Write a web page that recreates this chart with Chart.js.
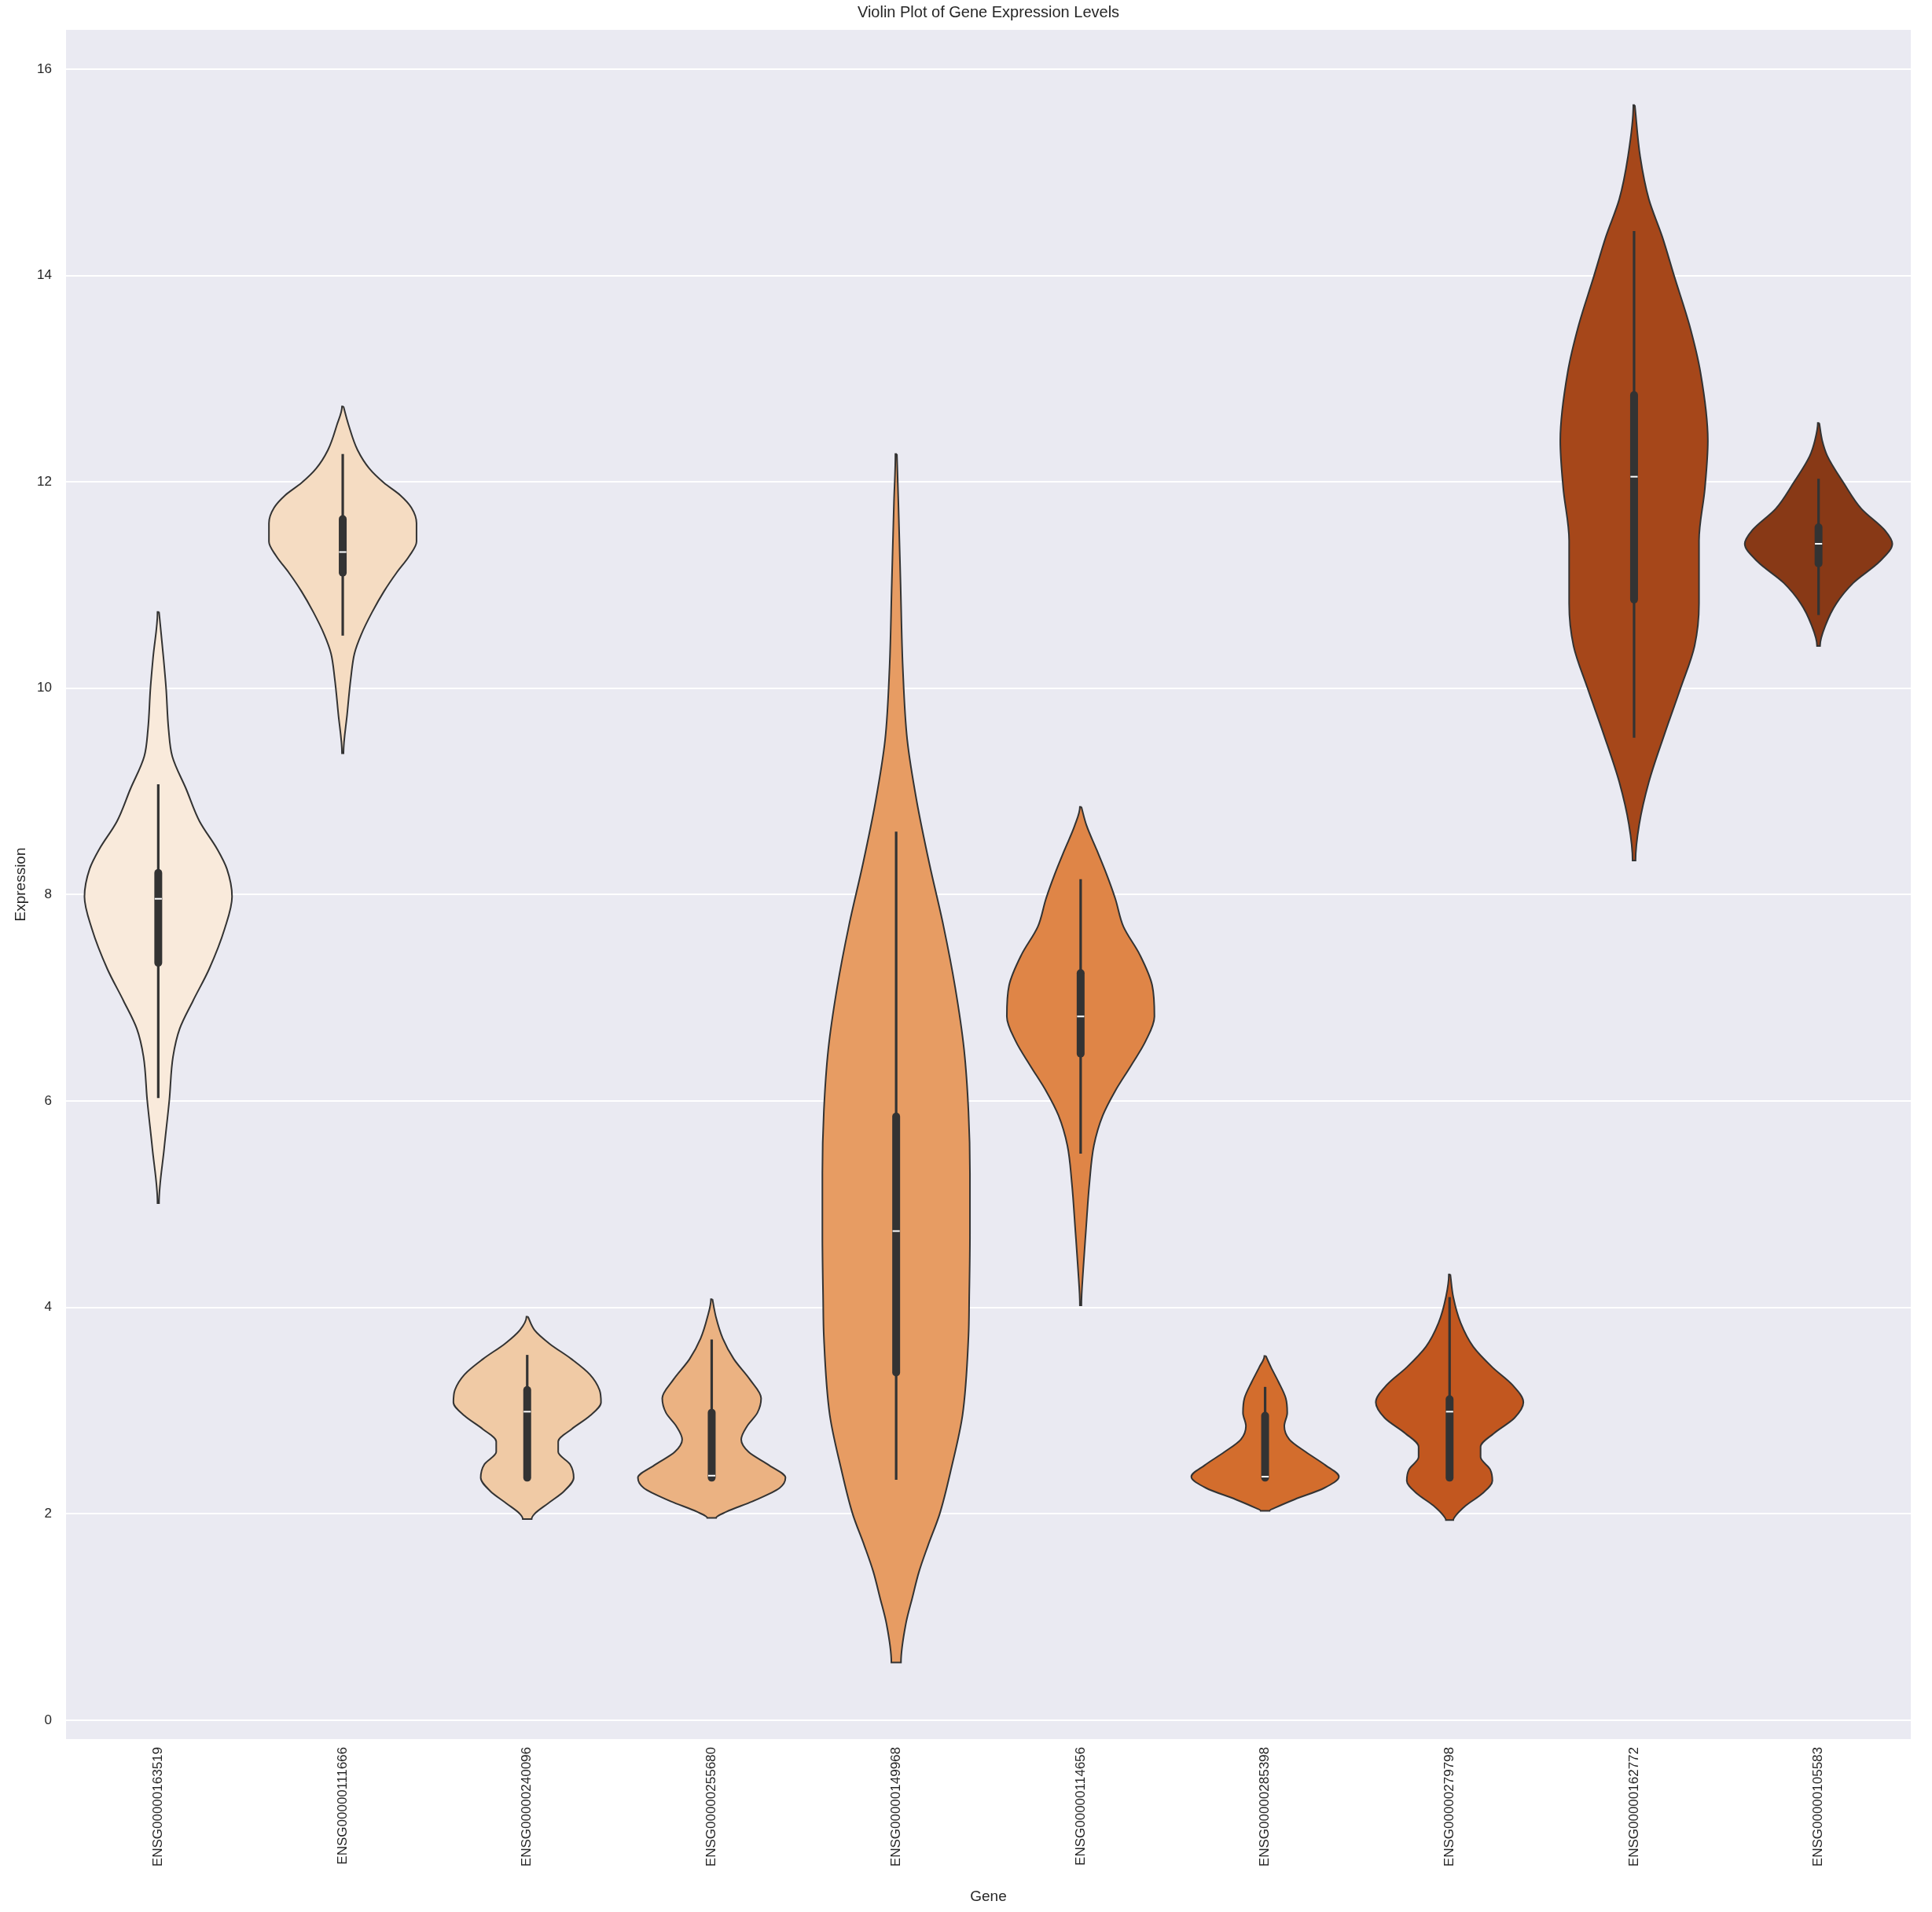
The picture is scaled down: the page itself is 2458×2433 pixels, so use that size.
<!DOCTYPE html>
<html>
<head>
<meta charset="utf-8">
<script src="https://cdn.jsdelivr.net/npm/chart.js@4.4.1/dist/chart.umd.min.js"></script>
<style>
html,body{margin:0;padding:0;background:#ffffff;}
#wrap{width:2458px;height:2433px;position:relative;}
</style>
</head>
<body>
<div id="wrap"><canvas id="c"></canvas></div>
<script>
// ---------------- data ----------------
const genes = ["ENSG00000163519","ENSG00000111666","ENSG00000240096","ENSG00000255680","ENSG00000149968",
               "ENSG00000114656","ENSG00000285398","ENSG00000279798","ENSG00000162772","ENSG00000105583"];
const yTicks = [0,2,4,6,8,10,12,14,16];

// box-plot summaries
const whiskerLow  = [6.03, 10.51, 2.33, 2.33, 2.33, 5.49, 2.33, 2.33, 9.52, 10.71];
const q1          = [7.34, 11.12, 2.35, 2.35, 3.37, 6.46, 2.35, 2.35, 10.86, 11.21];
const median      = [7.96, 11.32, 2.99, 2.37, 4.74, 6.82, 2.36, 2.99, 12.05, 11.40];
const q3          = [8.21, 11.64, 3.20, 2.98, 5.85, 7.24, 2.95, 3.11, 12.84, 11.56];
const whiskerHigh = [9.07, 12.27, 3.54, 3.69, 8.61, 8.15, 3.23, 4.10, 14.43, 12.03];

// violin outlines: expression levels (top -> bottom) and relative density (1 = widest)
const violinLevels = [
  [10.74,10.3,10.0,9.6,9.34,9.02,8.71,8.44,8.25,7.98,7.67,7.28,6.97,6.70,6.43,6.01,5.54,5.01],
  [12.73,12.55,12.31,12.13,11.99,11.87,11.75,11.60,11.42,11.28,11.12,10.94,10.74,10.52,10.34,10.1,9.75,9.37],
  [3.91,3.78,3.65,3.5,3.35,3.2,3.08,2.95,2.82,2.7,2.6,2.48,2.35,2.22,2.1,2.0,1.95],
  [4.08,3.9,3.7,3.5,3.3,3.12,2.98,2.85,2.72,2.6,2.47,2.35,2.25,2.12,2.02,1.96],
  [12.27,11.8,11.0,10.2,9.5,8.9,8.3,7.7,7.1,6.5,5.9,5.3,4.7,4.1,3.72,2.96,2.45,2.0,1.69,1.44,1.19,0.93,0.56],
  [8.85,8.67,8.43,8.2,7.96,7.69,7.42,7.12,6.82,6.58,6.34,6.1,5.86,5.57,5.21,4.73,4.37,4.02],
  [3.53,3.42,3.28,3.12,2.98,2.85,2.72,2.6,2.47,2.36,2.25,2.14,2.06,2.03],
  [4.32,4.1,3.85,3.62,3.42,3.25,3.08,2.93,2.78,2.65,2.55,2.43,2.32,2.2,2.08,1.97,1.94],
  [15.65,15.15,14.74,14.38,13.98,13.52,13.06,12.4,11.94,11.43,10.82,10.41,10.0,9.55,9.09,8.68,8.33],
  [12.57,12.4,12.25,11.99,11.74,11.53,11.40,11.23,11.02,10.82,10.62,10.41]
];
const violinDensity = [
  [0.01,0.07,0.106,0.14,0.19,0.38,0.56,0.8,0.93,1.0,0.9,0.69,0.47,0.29,0.2,0.15,0.08,0.01],
  [0.01,0.08,0.2,0.36,0.56,0.78,0.93,1.0,1.0,0.9,0.73,0.56,0.4,0.25,0.16,0.11,0.06,0.01],
  [0.01,0.1,0.3,0.6,0.85,0.98,1.0,0.85,0.6,0.42,0.42,0.58,0.63,0.5,0.28,0.1,0.06],
  [0.01,0.06,0.15,0.3,0.52,0.67,0.62,0.48,0.4,0.5,0.78,1.0,0.92,0.55,0.2,0.06],
  [0.01,0.03,0.06,0.09,0.15,0.28,0.45,0.64,0.8,0.92,0.98,1.0,1.0,0.99,0.98,0.9,0.75,0.59,0.43,0.31,0.22,0.13,0.065],
  [0.01,0.08,0.22,0.35,0.47,0.58,0.8,0.97,1.0,0.88,0.68,0.47,0.3,0.18,0.12,0.07,0.035,0.01],
  [0.01,0.08,0.18,0.28,0.3,0.26,0.33,0.55,0.82,1.0,0.8,0.4,0.14,0.06],
  [0.01,0.05,0.15,0.32,0.58,0.85,1.0,0.88,0.6,0.42,0.42,0.55,0.58,0.45,0.22,0.07,0.05],
  [0.01,0.083,0.2,0.38,0.55,0.75,0.9,1.0,0.96,0.88,0.88,0.82,0.63,0.41,0.2,0.07,0.02],
  [0.01,0.05,0.12,0.34,0.58,0.9,1.0,0.83,0.47,0.24,0.1,0.02]
];

// ---------------- styles ----------------
const fillColors = ["#f9eadb","#f5dcc2","#f0caa5","#ebb282","#e79c63","#df8547","#d36d2d","#c2571f","#a6471a","#883916"];
const LINE = "#333333";
const TEXT = "#262626";
const HALF = 0.4;
const FONT = "'Liberation Sans', Arial, Helvetica, sans-serif";

Chart.defaults.font.family = FONT;
Chart.defaults.color = TEXT;

const datasets = [];
genes.forEach((g, i) => {
  const lv = violinLevels[i], dn = violinDensity[i];
  const right = lv.map((v, k) => ({x: i + HALF * dn[k], y: v}));
  const left = lv.map((v, k) => ({x: i - HALF * dn[k], y: v})).reverse();
  const pts = right.concat(left);
  pts.push({x: right[0].x, y: right[0].y});
  datasets.push({label: g, data: pts, indexAxis: 'y', cubicInterpolationMode: 'monotone',
    borderColor: LINE, borderWidth: 2, backgroundColor: fillColors[i],
    fill: 'shape', pointRadius: 0, order: 3});
  datasets.push({label: g + ' whisker', data: [{x: i, y: whiskerLow[i]}, {x: i, y: whiskerHigh[i]}],
    borderColor: LINE, borderWidth: 3.2, pointRadius: 0, fill: false, order: 2});
  datasets.push({label: g + ' box', data: [{x: i, y: q1[i]}, {x: i, y: q3[i]}],
    borderColor: LINE, borderWidth: 10, borderCapStyle: 'round', pointRadius: 0, fill: false, order: 1});
  datasets.push({label: g + ' median', data: [{x: i - 0.0195, y: median[i]}, {x: i + 0.0195, y: median[i]}],
    borderColor: '#ffffff', borderWidth: 2, pointRadius: 0, fill: false, order: 0});
});

const bgPlugin = {
  id: 'bg',
  beforeDraw(chart) {
    const {ctx, chartArea: a} = chart;
    ctx.save();
    ctx.fillStyle = '#ffffff';
    ctx.fillRect(0, 0, chart.width, chart.height);
    ctx.fillStyle = '#eaeaf2';
    ctx.fillRect(a.left, a.top, a.right - a.left, a.bottom - a.top);
    ctx.restore();
  },
  afterLayout(chart) {
    const t = chart.titleBlock;
    if (t) { t.left = chart.chartArea.left; t.right = chart.chartArea.right; t.width = t.right - t.left; }
  }
};

new Chart(document.getElementById('c'), {
  type: 'line',
  data: {datasets},
  options: {
    responsive: true,
    maintainAspectRatio: false,
    devicePixelRatio: 1,
    animation: false,
    layout: {padding: {left: 0, right: 27, top: 0, bottom: 0}},
    plugins: {
      legend: {display: false},
      tooltip: {enabled: false},
      title: {display: true, text: 'Violin Plot of Gene Expression Levels', color: TEXT,
        font: {size: 20, weight: 'normal', family: FONT}, padding: {top: 4, bottom: 10}}
    },
    scales: {
      x: {
        type: 'linear', min: -0.5, max: 9.5,
        afterBuildTicks: s => { s.ticks = genes.map((g, i) => ({value: i})); },
        afterFit: s => { s.height = 220; },
        grid: {display: false, drawTicks: false},
        border: {display: false},
        ticks: {autoSkip: false, minRotation: 90, maxRotation: 90, padding: 10, color: TEXT,
          font: {size: 17, family: FONT}, callback: v => genes[v]},
        title: {display: true, text: 'Gene', color: TEXT, font: {size: 19, family: FONT}, padding: {top: 0, bottom: 8}}
      },
      y: {
        type: 'linear', min: -0.183, max: 16.38,
        afterBuildTicks: s => { s.ticks = yTicks.map(v => ({value: v})); },
        afterFit: s => { s.width = 84; },
        grid: {color: '#ffffff', lineWidth: 2, drawTicks: false},
        border: {display: false},
        ticks: {padding: 18, color: TEXT, font: {size: 17, family: FONT}},
        title: {display: true, text: 'Expression', color: TEXT, font: {size: 19, family: FONT}, padding: {top: 15, bottom: 0}}
      }
    }
  },
  plugins: [bgPlugin]
});
</script>
</body>
</html>
